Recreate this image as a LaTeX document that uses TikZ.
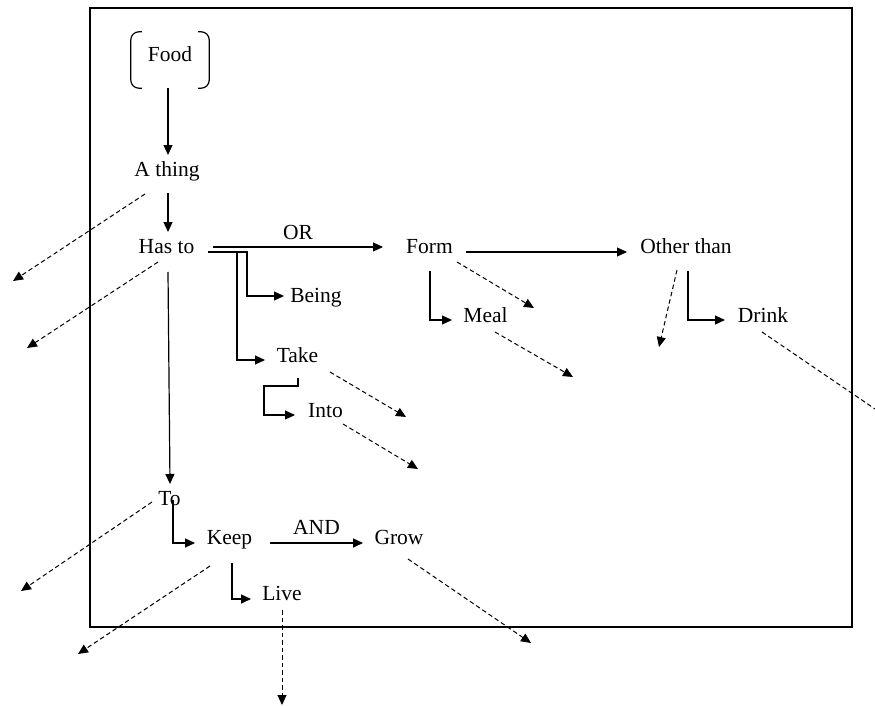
\documentclass[tikz,border=0pt]{standalone}
\usepackage{fontspec}
\setmainfont{Liberation Serif}
\usetikzlibrary{calc,arrows.meta}
\begin{document}
\begin{tikzpicture}[x=1pt,y=-1pt,
  lbl/.style={inner sep=0pt, anchor=base, font=\fontsize{21.5}{26}\selectfont},
  link/.style={line width=1.2pt, -{Triangle[length=10pt,width=9pt]}},
  hint/.style={line width=1pt, dash pattern=on 4.5pt off 3pt, -{Triangle[length=10pt,width=9pt]}},
  hintopen/.style={line width=1pt, dash pattern=on 4.5pt off 3pt},
  frame/.style={line width=1.3pt},
  bracket/.style={line width=1.2pt, rounded corners=8pt},
]
\useasboundingbox (0,0) rectangle (875,706);

% outer frame
\draw[frame] (90,8) rectangle (852,627);

% words
\node[minimum width=78pt, minimum height=56pt, inner sep=0pt] (fb) at (170,60) {};
\node[lbl] (food)  at (170,62)   {Food};
\node[lbl] (athing) at (167,176) {A thing};
\node[lbl] (hasto) at (166.5,253) {Has to};
\node[lbl] (being) at (316,302)  {Being};
\node[lbl] (take)  at (297.5,362) {Take};
\node[lbl] (into)  at (325.5,417) {Into};
\node[lbl] (form)  at (429.5,253) {Form};
\node[lbl] (other) at (686,253)  {Other than};
\node[lbl] (meal)  at (485.5,322) {Meal};
\node[lbl] (drink) at (763,322)  {Drink};
\node[lbl] (to)    at (169.5,505) {To};
\node[lbl] (keep)  at (229.5,544) {Keep};
\node[lbl] (grow)  at (399,544)  {Grow};
\node[lbl] (live)  at (282,600)  {Live};

% bracket pair around Food
\draw[bracket] ($(fb.north west)+(11,0)$) -- (fb.north west) -- (fb.south west) -- ($(fb.south west)+(11,0)$);
\draw[bracket] ($(fb.north east)+(-11,0)$) -- (fb.north east) -- (fb.south east) -- ($(fb.south east)+(-11,0)$);

% loose ends of the dashed hints
\coordinate (e1) at (13,281);
\coordinate (e2) at (27,348);
\coordinate (e3) at (406,417);
\coordinate (e4) at (418,469);
\coordinate (e5) at (534,308);
\coordinate (e6) at (573,377);
\coordinate (e7) at (659,347);
\coordinate (e8) at (875,409);
\coordinate (e9) at (21,591);
\coordinate (e10) at (78,654);
\coordinate (e11) at (531,643);
\coordinate (e12) at (282,705);

% main chain
\draw[link] ($(fb.south)+(-2,0)$) -- ($(athing.base)+(1,-21)$);
\draw[link] ($(athing.base)+(1,17)$) -- ($(hasto.base)+(1.5,-21)$);
\draw[link] ($(hasto.base)+(1.5,19)$) -- ($(to.base)+(0.5,-21)$);

% Has to branches
\draw[link] ($(hasto.base)+(46.5,-6)$) -- node[lbl, anchor=base, yshift=8pt] (or) {OR} ($(form.base)+(-46.5,-6)$);
\draw[link] ($(hasto.base)+(41.5,-1)$) -- ++(39,0) |- ($(being.base)+(-32,-6)$);
\draw[link] ($(hasto.base)+(70.5,-1)$) |- ($(take.base)+(-32.5,-2)$);
\draw[link] ($(take.base)+(0.5,16)$) -- ++(0,8) -- ++(-34,0) |- ($(into.base)+(-30.5,-2)$);

% Form branches
\draw[link] ($(form.base)+(36.5,-1)$) -- ($(other.base)+(-59,-1)$);
\draw[link] ($(form.base)+(0.5,18)$) |- ($(meal.base)+(-33.5,-2)$);
\draw[link] ($(other.base)+(2,18)$) |- ($(drink.base)+(-38,-2)$);

% To branches
\draw[link] ($(to.base)+(3.5,-5)$) |- ($(keep.base)+(-34.5,-1)$);
\draw[link] ($(keep.base)+(40.5,-1)$) -- node[lbl, anchor=base, yshift=9pt] (and) {AND} ($(grow.base)+(-36,-1)$);
\draw[link] ($(keep.base)+(2.5,19)$) |- ($(live.base)+(-31,-1)$);

% dashed hints
\draw[hint] ($(athing.base)+(-22,18)$) -- (e1);
\draw[hint] ($(hasto.base)+(-8.5,9)$) -- (e2);
\draw[hint] ($(take.base)+(32.5,10)$) -- (e3);
\draw[hint] ($(into.base)+(17.5,7)$) -- (e4);
\draw[hint] ($(form.base)+(27.5,9)$) -- (e5);
\draw[hint] ($(meal.base)+(9.5,10)$) -- (e6);
\draw[hint] ($(other.base)+(-9,17)$) -- (e7);
\draw[hintopen] ($(drink.base)+(-1,10)$) -- (e8);
\draw[hint] ($(to.base)+(-17.5,-3)$) -- (e9);
\draw[hint] ($(keep.base)+(-19.5,22)$) -- (e10);
\draw[hint] ($(grow.base)+(9,15)$) -- (e11);
\draw[hint] ($(live.base)+(0,10)$) -- (e12);
\end{tikzpicture}
\end{document}
